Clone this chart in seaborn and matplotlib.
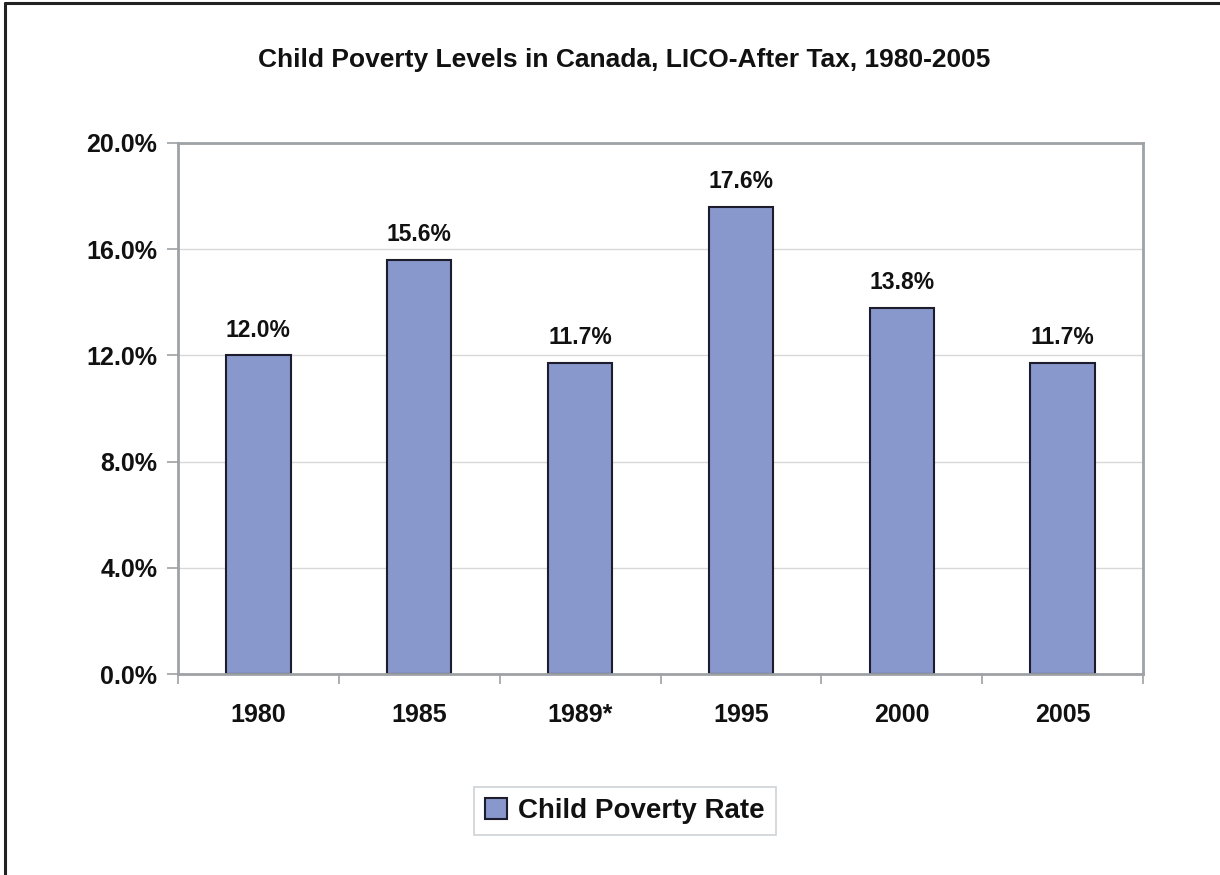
import matplotlib
matplotlib.use("Agg")
import matplotlib.pyplot as plt
import seaborn as sns
import pandas as pd
from matplotlib.lines import Line2D
from matplotlib.ticker import FuncFormatter, MultipleLocator, FixedLocator

years = ["1980", "1985", "1989*", "1995", "2000", "2005"]
rates = [12.0, 15.6, 11.7, 17.6, 13.8, 11.7]
series_name = "Child Poverty Rate"
title = "Child Poverty Levels in Canada, LICO-After Tax, 1980-2005"

sns.set_theme(style="white")
plt.rcParams['font.family'] = ['Liberation Sans', 'DejaVu Sans']
plt.rcParams['text.color'] = "#111111"
plt.rcParams['xtick.labelcolor'] = "#111111"
plt.rcParams['ytick.labelcolor'] = "#111111"

fig = plt.figure(figsize=(12.2, 8.75), dpi=100)
ax = fig.add_axes([0.1459, 0.2297, 0.7910, 0.6069])

df = pd.DataFrame({"Year": years, "Rate": rates, "Series": series_name})
sns.barplot(data=df, x="Year", y="Rate", hue="Series", palette=["#8898CC"],
            width=0.4, dodge=False, edgecolor="#1c1c2c", linewidth=1.5,
            saturation=1, ax=ax, legend=True)

ax.set_ylim(0, 20)
ax.set_xlim(-0.5, len(years) - 0.5)
ax.yaxis.set_major_locator(MultipleLocator(4))
ax.yaxis.set_major_formatter(FuncFormatter(lambda v, p: f"{v:.1f}%"))
ax.set_xlabel("")
ax.set_ylabel("")
ax.grid(axis="y", color="#D8D8D8", linewidth=1)
ax.set_axisbelow(True)

for s in ax.spines.values():
    s.set_color("#9EA2A6")
    s.set_linewidth(2)
    s.set_visible(True)

ax.tick_params(axis="y", which="major", direction="out", length=8, width=1.2,
               color="#9EA2A6", pad=7, labelsize=18, left=True)
ax.tick_params(axis="x", which="major", length=0, pad=21, labelsize=18)
ax.xaxis.set_minor_locator(FixedLocator([i - 0.5 for i in range(len(years) + 1)]))
ax.tick_params(axis="x", which="minor", direction="out", length=7, width=1.2,
               color="#9EA2A6", bottom=True)
for lab in ax.get_xticklabels() + ax.get_yticklabels():
    lab.set_fontweight("bold")

for cont in ax.containers:
    ax.bar_label(cont, labels=[f"{v:.1f}%" for v in rates], padding=10,
                 fontsize=16.5, fontweight="bold", color="#111111")

handles, labels = ax.get_legend_handles_labels()
ax.legend_.remove()
leg = fig.legend(handles, labels, loc="center", bbox_to_anchor=(0.512, 0.073),
                 frameon=True, fancybox=False, edgecolor="#C4C8CC",
                 prop={"weight": "bold", "size": 20},
                 handlelength=0.8, handleheight=0.8, handletextpad=0.4,
                 borderpad=0.4)
leg.get_frame().set_linewidth(1.2)

fig.text(0.512, 0.931, title, ha="center", va="center", fontsize=19,
         fontweight="bold", color="#111111")

fig.add_artist(Line2D([0.0041, 0.0041], [0, 0.9966], color="#222222",
                      linewidth=2.2, transform=fig.transFigure))
fig.add_artist(Line2D([0.0041, 1.0], [0.9966, 0.9966], color="#222222",
                      linewidth=2.2, transform=fig.transFigure))

fig.savefig("out.png", dpi=100)
